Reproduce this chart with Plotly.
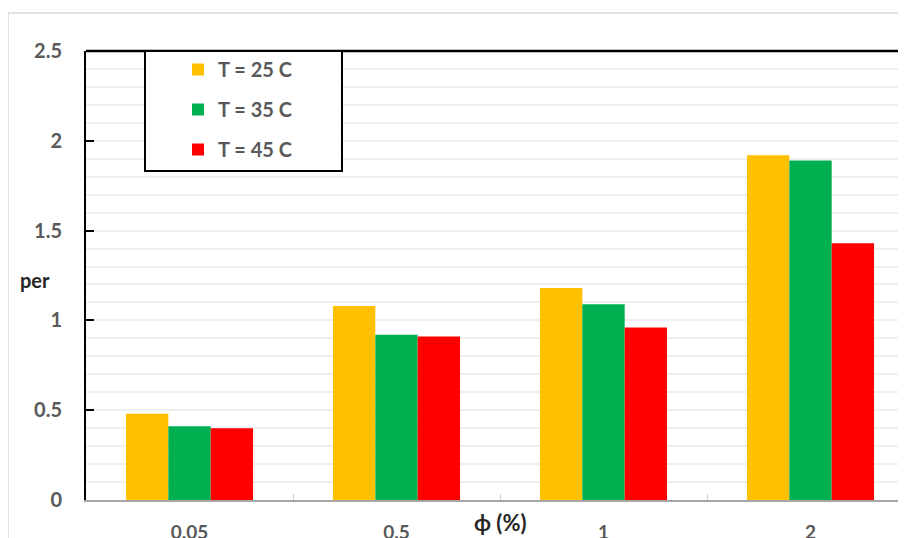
import plotly.graph_objects as go

categories = ["0.05", "0.5", "1", "2"]
series_names = ["T = 25 C", "T = 35 C", "T = 45 C"]
t25 = [0.48, 1.08, 1.18, 1.92]
t35 = [0.41, 0.92, 1.09, 1.89]
t45 = [0.40, 0.91, 0.96, 1.43]
colors = ["#FFC000", "#00B050", "#FF0000"]
y_ticks = [0, 0.5, 1, 1.5, 2, 2.5]
y_tick_labels = ["0", "0.5", "1", "1.5", "2", "2.5"]

FONT = "Lato"
GRAY = "#595959"

# page body has an 8px offset; screen coordinates of the plot area
OFF = 8
SL, ST, SB = 86, 51, 500          # screen left/top/bottom of plot area
W, H = 906, 538
L, T = SL - OFF, ST - OFF
B = H - (SB - OFF)
pw = W - L
ph = SB - ST


def px(sx):
    return (sx - SL) / pw


def py(sy):
    return (SB - sy) / ph


fig = go.Figure()
for name, vals, col in zip(series_names, [t25, t35, t45], colors):
    fig.add_trace(go.Bar(x=categories, y=vals, name=name, marker_color=col,
                         marker_line_width=0, legendgroup=name))

fig.update_layout(
    width=W, height=H,
    margin=dict(l=L, r=0, t=T, b=B, autoexpand=False),
    paper_bgcolor="white", plot_bgcolor="white",
    barmode="group", bargap=0.386, bargroupgap=0,
    font=dict(family=FONT, size=17, color=GRAY),
    showlegend=True,
    legend=dict(x=px(178), y=py(50), xanchor="left", yanchor="top",
                bgcolor="rgba(0,0,0,0)", borderwidth=0,
                font=dict(family=FONT, size=20, color=GRAY, weight="bold"),
                tracegroupgap=11, traceorder="grouped", itemwidth=30),
    xaxis=dict(range=[-0.5, -0.5 + pw / 207], tickson="boundaries", ticks="inside",
               ticklen=6, tickcolor="#d0d0d0", showline=True, linecolor="#a6a6a6",
               linewidth=2, showgrid=False, tickfont=dict(family=FONT, size=19,
               color=GRAY, weight="bold"), ticklabelstandoff=14, fixedrange=True),
    yaxis=dict(range=[0, 2.5], tickvals=y_ticks, ticktext=y_tick_labels,
               ticks="inside", ticklen=8, tickcolor="black", tickwidth=1.5,
               showline=True, linecolor="black", linewidth=2,
               gridcolor="#efefef", gridwidth=1.5, zeroline=False,
               minor=dict(dtick=0.1, showgrid=True, gridcolor="#efefef", gridwidth=1.5),
               tickfont=dict(family=FONT, size=20, color=GRAY, weight="bold"),
               ticklabelstandoff=18),
)

# outer chart border
fig.add_shape(type="rect", xref="paper", yref="paper",
              x0=px(8), x1=1.2, y0=-0.3, y1=py(13),
              line=dict(color="#d9d9d9", width=1.5), layer="below")
# top frame line
fig.add_shape(type="line", xref="paper", yref="paper", x0=0, x1=1, y0=1, y1=1,
              line=dict(color="black", width=2.5))
# legend box
fig.add_shape(type="rect", xref="paper", yref="paper",
              x0=px(145), x1=px(342), y0=py(171), y1=1,
              line=dict(color="black", width=2), fillcolor="white", layer="above")

fig.add_annotation(text="per", xref="paper", yref="paper", x=px(35), y=py(280),
                   xanchor="center", yanchor="middle", showarrow=False,
                   font=dict(family=FONT, size=20, color="#262626", weight="bold"))
fig.add_annotation(text="ϕ (%)", xref="paper", yref="paper", x=px(500), y=py(522),
                   xanchor="center", yanchor="middle", showarrow=False,
                   font=dict(family=FONT, size=22, color="#262626", weight="bold"))

fig.write_html("out.html")
